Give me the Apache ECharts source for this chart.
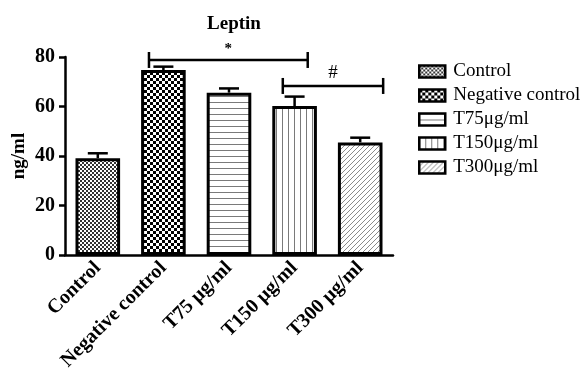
<!DOCTYPE html>
<html><head><meta charset="utf-8">
<script src="https://cdn.jsdelivr.net/npm/echarts@6/dist/echarts.min.js"></script>
<style>html,body{margin:0;padding:0;background:#fff}#c{width:585px;height:368px}</style>
</head><body><div id="c"></div>
<script>
const categories = ['Control', 'Negative control', 'T75μg/ml', 'T150μg/ml', 'T300μg/ml'];
const xTickLabels = ['Control', 'Negative control', 'T75 μg/ml', 'T150 μg/ml', 'T300 μg/ml'];
const legendNames = ['Control', 'Negative control', 'T75μg/ml', 'T150μg/ml', 'T300μg/ml'];
const means = [39.1, 74.7, 65.6, 60.2, 45.5];
const errors = [2.0, 1.4, 1.7, 3.8, 1.9];
const yTicks = [0, 20, 40, 60, 80];
const sigLabels = ['*', '#'];
const sigFrom = [1, 3];
const sigTo = [3, 4];
const sigLevel = [78.8, 68.3];

const FONT = '"Liberation Serif", "Times New Roman", serif';

function pattern(w, h, draw) {
  const c = document.createElement('canvas');
  c.width = w; c.height = h;
  const g = c.getContext('2d');
  g.fillStyle = '#fff'; g.fillRect(0, 0, w, h);
  draw(g, w, h);
  return { image: c, repeat: 'repeat' };
}
const patterns = [
  pattern(4, 4, g => { g.fillStyle = '#333'; g.fillRect(0, 0, 2, 2); g.fillRect(2, 2, 2, 2); }),
  pattern(6, 6, g => { g.fillStyle = '#000'; g.fillRect(0, 0, 3, 3); g.fillRect(3, 3, 3, 3); }),
  pattern(1, 6, g => { g.fillStyle = '#7a7a7a'; g.fillRect(0, 0, 1, 1); }),
  pattern(6, 1, g => { g.fillStyle = '#7a7a7a'; g.fillRect(0, 0, 1, 1); }),
  pattern(5, 5, g => { g.fillStyle = '#8a8a8a'; for (let i = 0; i < 5; i++) g.fillRect(i, 4 - i, 1, 1); })
];
// bracket geometry (fraction of category width offsets from centres)
const sigOffsets = [[-0.22, 0.20], [-0.18, 0.35]];

const chart = echarts.init(document.getElementById('c'), null, { renderer: 'canvas' });

const barSeries = categories.map((cat, i) => ({
  name: legendNames[i],
  type: 'bar',
  barWidth: '68%',
  barGap: '-100%',
  data: means.map((v, j) => (j === i ? v : '-')),
  itemStyle: { color: patterns[i], borderColor: '#000', borderWidth: 3 },
  emphasis: { disabled: true },
  z: 2
}));

const errorSeries = {
  type: 'custom',
  name: 'err',
  data: means.map((v, i) => [i, v, errors[i]]),
  encode: { x: 0, y: 1 },
  z: 3,
  renderItem(params, api) {
    const i = api.value(0), v = api.value(1), e = api.value(2);
    const p0 = api.coord([i, v]);
    const p1 = api.coord([i, v + e]);
    const half = 10;
    const st = { stroke: '#000', lineWidth: 2.5 };
    return { type: 'group', children: [
      { type: 'line', shape: { x1: p0[0], y1: p0[1], x2: p1[0], y2: p1[1] }, style: st },
      { type: 'line', shape: { x1: p1[0] - half, y1: p1[1], x2: p1[0] + half, y2: p1[1] }, style: st }
    ]};
  }
};

const sigSeries = {
  type: 'custom',
  name: 'sig',
  data: sigLabels.map((l, k) => [sigFrom[k], sigTo[k], sigLevel[k], k]),
  encode: { x: 0, y: 2 },
  z: 4,
  renderItem(params, api) {
    const a = api.value(0), b = api.value(1), y = api.value(2), k = api.value(3);
    const bw = api.size([1, 0])[0];
    const pa = api.coord([a, y]);
    const pb = api.coord([b, y]);
    const x1 = pa[0] + sigOffsets[k][0] * bw;
    const x2 = pb[0] + sigOffsets[k][1] * bw;
    const yy = pa[1];
    const st = { stroke: '#000', lineWidth: 2.5 };
    return { type: 'group', children: [
      { type: 'line', shape: { x1: x1, y1: yy, x2: x2, y2: yy }, style: st },
      { type: 'line', shape: { x1: x1, y1: yy - 8, x2: x1, y2: yy + 8 }, style: st },
      { type: 'line', shape: { x1: x2, y1: yy - 8, x2: x2, y2: yy + 8 }, style: st },
      { type: 'text', x: (x1 + x2) / 2, y: yy - 3, style: {
        text: sigLabels[k], fill: '#000', align: 'center', verticalAlign: 'bottom',
        font: (k === 0 ? 'bold 15px ' : '19px ') + FONT } }
    ]};
  }
};

chart.setOption({
  animation: false,
  backgroundColor: '#fff',
  title: {
    text: 'Leptin', left: 229, top: 10, textAlign: 'center',
    textStyle: { fontFamily: FONT, fontWeight: 'bold', fontSize: 19, color: '#000' }
  },
  legend: {
    orient: 'vertical', left: 413, top: 57, itemWidth: 26, itemHeight: 12, itemGap: 5,
    data: legendNames, icon: 'rect',
    itemStyle: { borderColor: '#000', borderWidth: 2.5 },
    textStyle: { fontFamily: FONT, fontSize: 19, lineHeight: 19, color: '#000', padding: [0, 0, 0, 3] }
  },
  grid: { left: 65, right: 192, top: 57, bottom: 113, containLabel: false, outerBoundsMode: 'none' },
  xAxis: {
    type: 'category', data: categories,
    axisLine: { lineStyle: { color: '#000', width: 2.5 } },
    axisTick: { alignWithLabel: true, length: 6, lineStyle: { color: '#000', width: 2.5 } },
    axisLabel: {
      rotate: 45, margin: 10, interval: 0, color: '#000',
      fontFamily: FONT, fontWeight: 'bold', fontSize: 20,
      formatter: (v, i) => xTickLabels[i]
    }
  },
  yAxis: {
    type: 'value', min: 0, max: 80, interval: 20,
    name: 'ng/ml', nameLocation: 'middle', nameGap: 36, nameRotate: 90, nameMoveOverlap: false,
    nameTextStyle: { fontFamily: FONT, fontWeight: 'bold', fontSize: 19, color: '#000' },
    axisLine: { show: true, lineStyle: { color: '#000', width: 2.5 } },
    axisTick: { show: true, length: 6, lineStyle: { color: '#000', width: 2.5 } },
    splitLine: { show: false },
    axisLabel: {
      margin: 10, color: '#000', fontFamily: FONT, fontWeight: 'bold', fontSize: 20,
      formatter: v => (yTicks.indexOf(v) >= 0 ? String(v) : '')
    }
  },
  series: [...barSeries, errorSeries, sigSeries]
});
</script></body></html>
